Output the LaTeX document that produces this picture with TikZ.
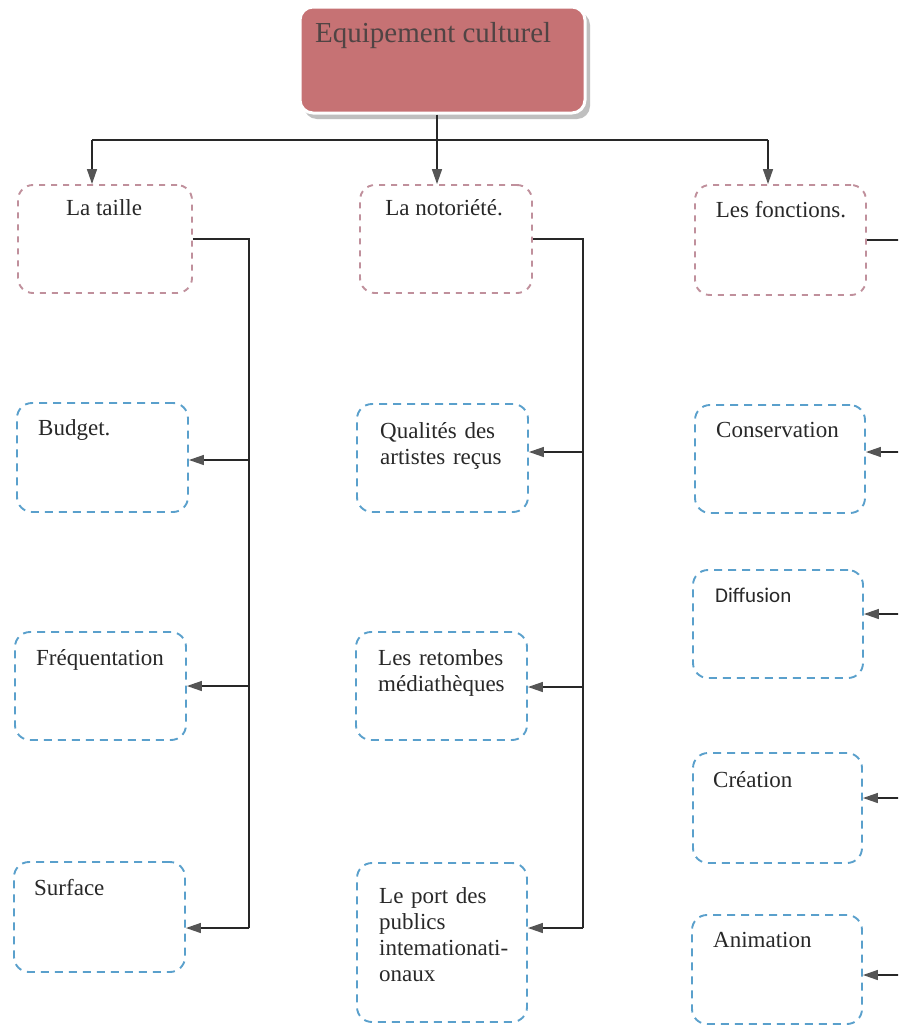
\documentclass[tikz,border=0pt]{standalone}
\usepackage{fontspec}
\setmainfont{Liberation Serif}
\newfontfamily\sanslabel{Carlito}
\usetikzlibrary{arrows.meta,fit}

\definecolor{rosefill}{RGB}{198,114,116}
\definecolor{titlegray}{RGB}{80,68,68}
\definecolor{textgray}{RGB}{40,40,40}
\definecolor{linegray}{RGB}{40,40,40}
\definecolor{tipgray}{RGB}{85,85,85}
\definecolor{dashpink}{RGB}{192,144,156}
\definecolor{dashblue}{RGB}{90,160,204}

\begin{document}
\begin{tikzpicture}[x=1pt,y=-1pt,
  framebox/.style={fit={#1}, inner sep=0pt, rounded corners=15pt, line width=1.9pt},
  pinkbox/.style={framebox={#1}, draw=dashpink, dash pattern=on 6pt off 6pt},
  bluebox/.style={framebox={#1}, draw=dashblue, dash pattern=on 8pt off 6pt},
  headtxt/.style={anchor=base, inner sep=0pt, text=textgray, font=\fontsize{23}{26}\selectfont},
  txt/.style={anchor=base west, inner sep=0pt, text=textgray, text width=150pt, align=left,
              font=\fontsize{23}{26}\selectfont},
  link/.style={draw=linegray, line width=1.4pt},
  arr/.style={link, -{Triangle[length=15pt,width=10pt,color=tipgray,fill=tipgray]}}
]
\clip (0,0) rectangle (898,1026);
\fill[white] (0,0) rectangle (898,1026);

% title box
\fill[black!25, rounded corners=13pt] (304,12) rectangle (590,119);
\node[framebox={(300,7)(585,113)}, fill=rosefill, draw=white, line width=3pt, rounded corners=13pt] (top) {};
\node[anchor=base west, inner sep=0pt, text=titlegray, font=\fontsize{29}{34}\selectfont] (topT) at (315,42) {Equipement culturel};

% first level
\node[pinkbox={(18,185)(192,293)}] (taille) {};
\node[pinkbox={(360,185)(532,293)}] (notoriete) {};
\node[pinkbox={(695,185)(866,295)}] (fonctions) {};
\node[headtxt] (tailleT) at (104,215) {La taille};
\node[headtxt] (notorieteT) at (444,215) {La notoriété.};
\node[headtxt] (fonctionsT) at (781,217) {Les fonctions.};

% second level, left column
\node[bluebox={(17,403)(188,512)}] (budget) {};
\node[bluebox={(15,632)(186,740)}] (frequentation) {};
\node[bluebox={(14,862)(185,972)}] (surface) {};
\node[txt] (budgetT) at (38,435) {Budget.};
\node[txt] (frequentationT) at (36,665) {Fréquentation};
\node[txt] (surfaceT) at (34,895) {Surface};

% second level, middle column
\node[bluebox={(357,404)(528,512)}] (qualites) {};
\node[bluebox={(356,632)(527,740)}] (retombes) {};
\node[bluebox={(357,863)(527,1022)}] (port) {};
\node[txt] (qualitesT) at (380,438) {Qualités des\\artistes reçus};
\node[txt] (retombesT) at (378,665) {Les retombes\\médiathèques};
\node[txt] (portT) at (379,903) {Le port des\\publics\\intemationati-\\onaux};

% second level, right column
\node[bluebox={(695,405)(865,513)}] (conservation) {};
\node[bluebox={(693,570)(863,678)}] (diffusion) {};
\node[bluebox={(693,753)(862,863)}] (creation) {};
\node[bluebox={(692,915)(862,1024)}] (animation) {};
\node[txt] (conservationT) at (716,437) {Conservation};
\node[txt, font=\sanslabel\fontsize{21}{25}\selectfont] (diffusionT) at (715,602) {Diffusion};
\node[txt] (creationT) at (713,787) {Création};
\node[txt] (animationT) at (713,947) {Animation};

% top distribution bar
\coordinate (barL) at (92,140);
\coordinate (barM) at (437,140);
\coordinate (barR) at (768,140);
\draw[link] (barL) -- (barR);
\draw[arr] (barM |- top.south) -- (notoriete.north -| barM);
\draw[arr] (barL) -- (taille.north -| barL);
\draw[arr] (barR) -- (fonctions.north -| barR);

% left spine
\coordinate (lEnd) at (249,928);
\coordinate (l1) at (249,460);
\coordinate (l2) at (249,686);
\draw[link] (taille.east) -| (lEnd);
\draw[arr] (l1) -- (budget.east |- l1);
\draw[arr] (l2) -- (frequentation.east |- l2);
\draw[arr] (lEnd) -- (surface.east |- lEnd);

% middle spine
\coordinate (mEnd) at (583,928);
\coordinate (m1) at (583,452);
\coordinate (m2) at (583,687);
\draw[link] (notoriete.east) -| (mEnd);
\draw[arr] (m1) -- (qualites.east |- m1);
\draw[arr] (m2) -- (retombes.east |- m2);
\draw[arr] (mEnd) -- (port.east |- mEnd);

% right spine (runs past the page edge)
\coordinate (rEnd) at (930,975);
\coordinate (r1) at (930,452);
\coordinate (r2) at (930,614);
\coordinate (r3) at (930,798);
\draw[link] (fonctions.east) -| (rEnd);
\draw[arr] (r1) -- (conservation.east |- r1);
\draw[arr] (r2) -- (diffusion.east |- r2);
\draw[arr] (r3) -- (creation.east |- r3);
\draw[arr] (rEnd) -- (animation.east |- rEnd);
\end{tikzpicture}
\end{document}
